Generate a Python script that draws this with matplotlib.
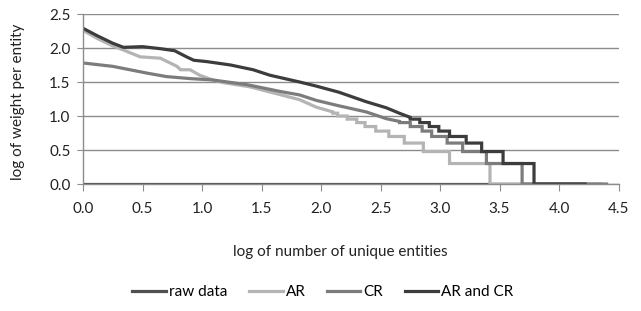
import numpy as np
import matplotlib
matplotlib.use("Agg")
import matplotlib.pyplot as plt

plt.rcParams["font.family"] = ["Lato", "DejaVu Sans"]

# raw data: stays on the x axis
raw_x = [0.0, 4.0]
raw_y = [0.0, 0.0]

# AR: smooth head, then integer-weight staircase
ar_x = [0, 0.12, 0.25, 0.34, 0.48, 0.65, 0.79, 0.82, 0.90, 0.98, 1.09, 1.18, 1.40, 1.60, 1.82, 1.96, 2.10]
ar_y = [2.26, 2.14, 2.03, 1.97, 1.87, 1.85, 1.73, 1.68, 1.68, 1.60, 1.53, 1.49, 1.43, 1.34, 1.24, 1.13, 1.06]
ar_edges = [2.10, 2.14, 2.22, 2.30, 2.37, 2.46, 2.57, 2.70, 2.86, 3.08, 3.42, 4.35]
ar_levels = [1.041, 1.0, 0.954, 0.903, 0.845, 0.778, 0.699, 0.602, 0.477, 0.301, 0.0]

# CR
cr_x = [0, 0.25, 0.54, 0.70, 0.90, 1.09, 1.38, 1.66, 1.82, 1.96, 2.15, 2.38, 2.55, 2.66]
cr_y = [1.78, 1.73, 1.63, 1.58, 1.55, 1.53, 1.46, 1.36, 1.31, 1.23, 1.15, 1.06, 0.96, 0.92]
cr_edges = [2.66, 2.75, 2.85, 2.93, 3.06, 3.19, 3.39, 3.69, 4.40]
cr_levels = [0.903, 0.845, 0.778, 0.699, 0.602, 0.477, 0.301, 0.0]

# AR and CR
arcr_x = [0, 0.12, 0.25, 0.34, 0.50, 0.65, 0.77, 0.87, 0.93, 1.04, 1.24, 1.43, 1.57, 1.82, 1.96, 2.15, 2.38, 2.55, 2.66, 2.75]
arcr_y = [2.29, 2.18, 2.07, 2.01, 2.02, 1.99, 1.96, 1.87, 1.82, 1.80, 1.75, 1.68, 1.60, 1.50, 1.44, 1.35, 1.21, 1.12, 1.04, 0.98]
arcr_edges = [2.75, 2.83, 2.91, 2.99, 3.08, 3.22, 3.35, 3.53, 3.79, 4.22]
arcr_levels = [0.954, 0.903, 0.845, 0.778, 0.699, 0.602, 0.477, 0.301, 0.0]

x_ticks = [0.0, 0.5, 1.0, 1.5, 2.0, 2.5, 3.0, 3.5, 4.0, 4.5]
y_ticks = [0.0, 0.5, 1.0, 1.5, 2.0, 2.5]


def join_steps(xs, ys, edges, levels):
    sx = np.repeat(edges, 2)[1:-1]
    sy = np.repeat(levels, 2)
    return np.concatenate([xs, sx]), np.concatenate([ys, sy])


fig = plt.figure(figsize=(6.41, 3.11), dpi=100)
ax = fig.add_axes([83 / 641, 1 - 184 / 311, (618.5 - 83) / 641, 170 / 311])

lw = 2.3
ax.plot(raw_x, raw_y, color="#505050", lw=lw, label="raw data", solid_joinstyle="miter")
x, y = join_steps(ar_x, ar_y, ar_edges, ar_levels)
ax.plot(x, y, color="#b4b4b4", lw=lw, label="AR", solid_joinstyle="miter")
x, y = join_steps(cr_x, cr_y, cr_edges, cr_levels)
ax.plot(x, y, color="#7c7c7c", lw=lw, label="CR", solid_joinstyle="miter")
x, y = join_steps(arcr_x, arcr_y, arcr_edges, arcr_levels)
ax.plot(x, y, color="#3c3c3c", lw=lw, label="AR and CR", solid_joinstyle="miter")

ax.set_xlim(0, 4.5)
ax.set_ylim(0, 2.5)
ax.set_xticks(x_ticks)
ax.set_yticks(y_ticks)
ax.set_xticklabels([f"{v:.1f}" for v in x_ticks])
ax.set_yticklabels([f"{v:.1f}" for v in y_ticks])
ax.grid(axis="y", color="#8c8c8c", lw=1)
ax.set_axisbelow(True)
for s in ["top", "right"]:
    ax.spines[s].set_visible(False)
for s in ["left", "bottom"]:
    ax.spines[s].set_color("#8c8c8c")
    ax.spines[s].set_linewidth(1)
ax.tick_params(axis="x", direction="out", length=5, color="#8c8c8c", pad=8, labelsize=11, labelcolor="#222222")
ax.tick_params(axis="y", direction="out", length=4, color="#8c8c8c", pad=5, labelsize=11, labelcolor="#222222")

fig.text(340 / 641, 1 - 252 / 311, "log of number of unique entities", ha="center", va="center", fontsize=11, color="#222222")
fig.text(18 / 641, 1 - 102 / 311, "log of weight per entity", rotation=90, ha="center", va="center", fontsize=11, color="#222222")

fig.legend(loc="center", bbox_to_anchor=(323 / 641, 1 - 292 / 311), ncol=4, frameon=False,
           fontsize=11, handlelength=2.2, handletextpad=0.2, columnspacing=1.4)

fig.savefig("out.png", dpi=100)
